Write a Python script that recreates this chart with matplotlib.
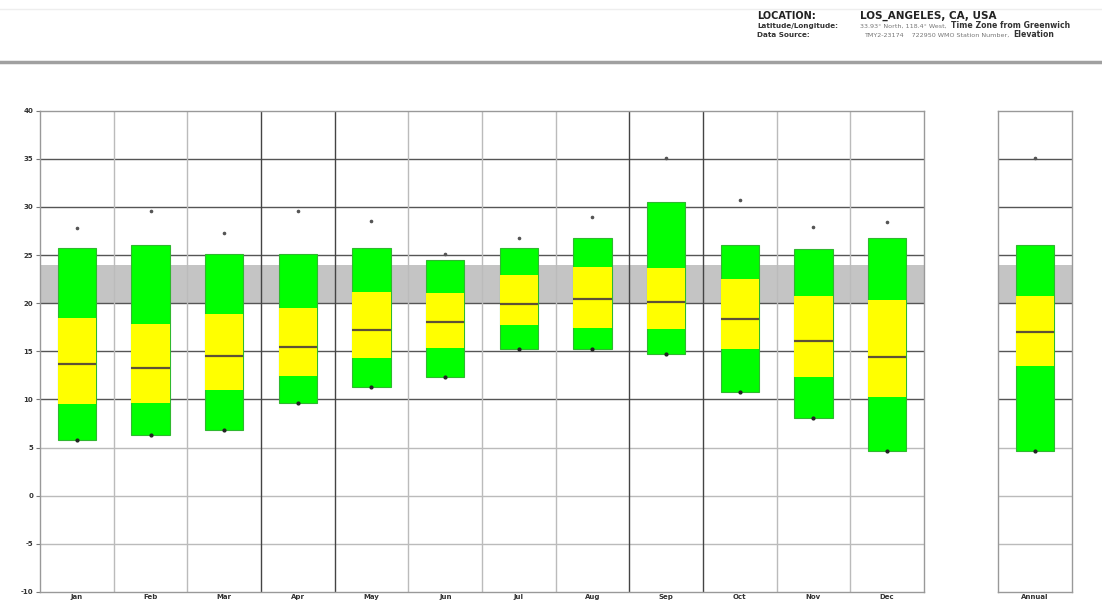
import numpy as np
import matplotlib.pyplot as plt

months = ['Jan', 'Feb', 'Mar', 'Apr', 'May', 'Jun',
          'Jul', 'Aug', 'Sep', 'Oct', 'Nov', 'Dec']

# dry bulb temperature statistics (deg C)
rec_high = [27.8, 29.6, 27.3, 29.6, 28.5, 25.1, 26.8, 29.0, 35.1, 30.7, 27.9, 28.4]
mean_max = [25.7, 26.1, 25.1, 25.1, 25.7, 24.5, 25.7, 26.8, 30.5, 26.1, 25.6, 26.8]
avg_high = [18.5, 17.8, 18.9, 19.5, 21.2, 21.1, 22.9, 23.8, 23.7, 22.5, 20.8, 20.3]
mean_t = [13.7, 13.3, 14.5, 15.5, 17.2, 18.0, 19.9, 20.4, 20.1, 18.4, 16.1, 14.4]
avg_low = [9.5, 9.6, 11.0, 12.4, 14.3, 15.3, 17.7, 17.4, 17.3, 15.2, 12.3, 10.3]
mean_min = [5.8, 6.3, 6.8, 9.6, 11.3, 12.3, 15.2, 15.2, 14.7, 10.8, 8.1, 4.6]

ann_rec_high = 35.1
ann_mean_max = 26.1
ann_avg_high = 20.8
ann_mean_t = 17.0
ann_avg_low = 13.5
ann_mean_min = 4.6

comfort_zone = (20.0, 24.0)
yticks = [-10, -5, 0, 5, 10, 15, 20, 25, 30, 35, 40]

GREEN = '#00ff00'
YELLOW = '#ffff00'
EDGE = '#2fb82f'
MED = '#5e5236'

W, H = 1102, 600
fig = plt.figure(figsize=(W / 100, H / 100), dpi=100)


def panel(x0, x1):
    y_top, y_bot = 110.7, 592.0
    return fig.add_axes([x0 / W, 1 - y_bot / H, (x1 - x0) / W, (y_bot - y_top) / H])


def draw_boxes(ax, x, hi, top, uq, med, lq, bot, width=0.52):
    x = np.asarray(x, dtype=float)
    top, bot = np.asarray(top), np.asarray(bot)
    uq, lq = np.asarray(uq), np.asarray(lq)
    ax.bar(x, top - bot, bottom=bot, width=width, color=GREEN,
           edgecolor=EDGE, linewidth=0.8, zorder=3)
    ax.bar(x, uq - lq, bottom=lq, width=width, color=YELLOW,
           edgecolor='none', zorder=4)
    ax.hlines(med, x - width / 2, x + width / 2, color=MED, lw=1.6, zorder=5)
    ax.plot(x, hi, ls='none', marker='o', ms=1.6, color='#555555', zorder=5)
    ax.plot(x, bot, ls='none', marker='o', ms=2.0, color='#222222', zorder=5)


def style(ax, n, labels):
    ax.set_xlim(0, n)
    ax.set_ylim(-10, 40)
    ax.axhspan(*comfort_zone, color='#c4c4c4', lw=0, zorder=1)
    for v in yticks[1:-1]:
        c = '#555555' if v >= 10 else '#bbbbbb'
        ax.axhline(v, color=c, lw=1.0, zorder=2)
    for i in range(1, n):
        c = '#444444' if i in (3, 4, 8, 9) else '#bbbbbb'
        ax.axvline(i, color=c, lw=1.0, zorder=2)
    for s in ax.spines.values():
        s.set_color('#999999')
        s.set_linewidth(1.0)
    ax.set_xticks(np.arange(n) + 0.5)
    ax.set_xticklabels(labels, fontsize=5, fontweight='bold', color='#333333')
    ax.tick_params(axis='x', length=0, pad=1.5)


ax = panel(40, 924)
style(ax, 12, months)
ax.set_yticks(yticks)
ax.set_yticklabels([str(v) for v in yticks], fontsize=5, fontweight='bold', color='#333333')
ax.tick_params(axis='y', length=3, width=0.8, color='#777777', pad=2)
draw_boxes(ax, np.arange(12) + 0.5, rec_high, mean_max, avg_high, mean_t, avg_low, mean_min)

ax2 = panel(998, 1072)
style(ax2, 1, ['Annual'])
ax2.set_yticks(yticks)
ax2.tick_params(axis='y', length=0, labelleft=False)
draw_boxes(ax2, [0.5], [ann_rec_high], [ann_mean_max], [ann_avg_high],
           [ann_mean_t], [ann_avg_low], [ann_mean_min])

# header block
fig.add_artist(plt.Line2D([0, 1], [1 - 62 / H, 1 - 62 / H], color='#a0a0a0', lw=2.5))
fig.add_artist(plt.Line2D([0, 1], [1 - 9 / H, 1 - 9 / H], color='#eeeeee', lw=1.0))

hx, vx = 757 / W, 860 / W
row1, row2, row3 = 1 - 19 / H, 1 - 28 / H, 1 - 37 / H
fig.text(hx, row1, 'LOCATION:', fontsize=7, fontweight='bold', va='baseline', color='#222222')
fig.text(vx, row1, 'LOS_ANGELES, CA, USA', fontsize=7.5, fontweight='bold', va='baseline',
         color='#222222')
fig.text(hx, row2, 'Latitude/Longitude:', fontsize=5.2, fontweight='bold', va='baseline',
         color='#333333')
fig.text(hx, row3, 'Data Source:', fontsize=5.2, fontweight='bold', va='baseline',
         color='#333333')
lat = fig.text(vx, row2, '33.93\u00b0 North, 118.4\u00b0 West,', fontsize=4.6,
               va='baseline', color='#777777')
src = fig.text(vx + 4 / W, row3, 'TMY2-23174    722950 WMO Station Number,', fontsize=4.6,
               va='baseline', color='#777777')

# bold trailing parts continue right after the grey value texts
fig.canvas.draw()
r = fig.canvas.get_renderer()
for base, word in ((lat, 'Time Zone from Greenwich'), (src, 'Elevation')):
    bb = base.get_window_extent(r)
    fig.text((bb.x1 + 4) / W, base.get_position()[1], word, fontsize=5.6, fontweight='bold',
             va='baseline', color='#333333')

fig.savefig('out.png', dpi=100)
